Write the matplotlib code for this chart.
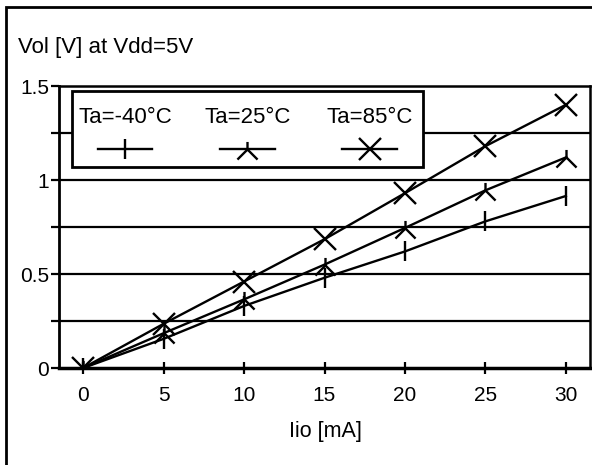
import matplotlib
matplotlib.use("Agg")
import matplotlib.pyplot as plt
from matplotlib.patches import Rectangle
from matplotlib.path import Path

plt.rcParams["font.family"] = ["Liberation Sans", "DejaVu Sans"]

# data
iio = [0, 5, 10, 15, 20, 25, 30]
vol_m40 = [0, 0.155, 0.33, 0.48, 0.62, 0.78, 0.915]
vol_25 = [0, 0.185, 0.365, 0.55, 0.745, 0.945, 1.12]
vol_85 = [0, 0.235, 0.46, 0.685, 0.93, 1.18, 1.40]

labels = ["Ta=-40°C", "Ta=25°C", "Ta=85°C"]

x_ticks = [0, 5, 10, 15, 20, 25, 30]
y_ticks = [0, 0.5, 1, 1.5]
y_tick_labels = ["0", "0.5", "1", "1.5"]
y_grid = [0.25, 0.5, 0.75, 1.0, 1.25]

# upside-down Y marker: short stem up, two legs down at 45 deg
tri = Path([(0, 0), (0, 0.75), (0, 0), (-1, -1), (0, 0), (1, -1)],
           [Path.MOVETO, Path.LINETO, Path.MOVETO, Path.LINETO,
            Path.MOVETO, Path.LINETO])
markers = ["|", tri, "x"]
msizes = [14, 14.5, 16]

fig = plt.figure(figsize=(5.92, 4.65), dpi=100)
fig.patch.set_facecolor("white")

# outer frame (only left/top edges fall inside the picture)
fig.add_artist(Rectangle((6 / 592, -0.1), 1.2, 1.1 - 7 / 465,
                         transform=fig.transFigure, fill=False,
                         edgecolor="black", linewidth=2))

ax = fig.add_axes([59 / 592, 1 - 368 / 465, 531 / 592, 282 / 465])

for g in y_grid:
    ax.axhline(g, color="black", linewidth=1.6, zorder=1)

for vals, mk, ms in zip([vol_m40, vol_25, vol_85], markers, msizes):
    ax.plot(iio, vals, color="black", linewidth=1.7, marker=mk,
            markersize=ms, markeredgewidth=1.7, zorder=3)

ax.set_xlim(-1.5, 31.5)
ax.set_ylim(0, 1.5)
ax.set_xticks(x_ticks)
ax.set_yticks(y_ticks)
ax.set_yticklabels(y_tick_labels)
ax.set_yticks([0.25, 0.75, 1.25], minor=True)
ax.tick_params(axis="x", direction="inout", length=8, width=1.6,
               labelsize=15, pad=9)
ax.tick_params(axis="y", direction="out", length=6, width=1.6,
               labelsize=15, pad=1)
ax.tick_params(axis="y", which="minor", direction="out", length=6, width=1.6)

for side in ["top", "right"]:
    ax.spines[side].set_linewidth(1.8)
ax.spines["left"].set_linewidth(2)
ax.spines["bottom"].set_linewidth(2.5)

# legend drawn by hand: labels above the line samples
ax.add_patch(Rectangle((-0.68, 1.07), 21.8, 0.403, facecolor="white",
                       edgecolor="black", linewidth=2, zorder=4))
leg_x = [2.6, 10.2, 17.8]
for xc, lab, mk, ms in zip(leg_x, labels, markers, msizes):
    ax.text(xc, 1.335, lab, ha="center", va="center", fontsize=16, zorder=5)
    ax.plot([xc - 1.7, xc + 1.7], [1.165, 1.165], color="black",
            linewidth=1.7, zorder=5)
    ax.plot([xc], [1.165], color="black", marker=mk, markersize=ms,
            markeredgewidth=1.7, zorder=5)

fig.text(18 / 592, 1 - 47 / 465, "Vol [V] at Vdd=5V", ha="left",
         va="center", fontsize=16)
fig.text(325 / 592, 1 - 431 / 465, "Iio [mA]", ha="center", va="center",
         fontsize=15.5)

fig.savefig("out.png", dpi=100)
